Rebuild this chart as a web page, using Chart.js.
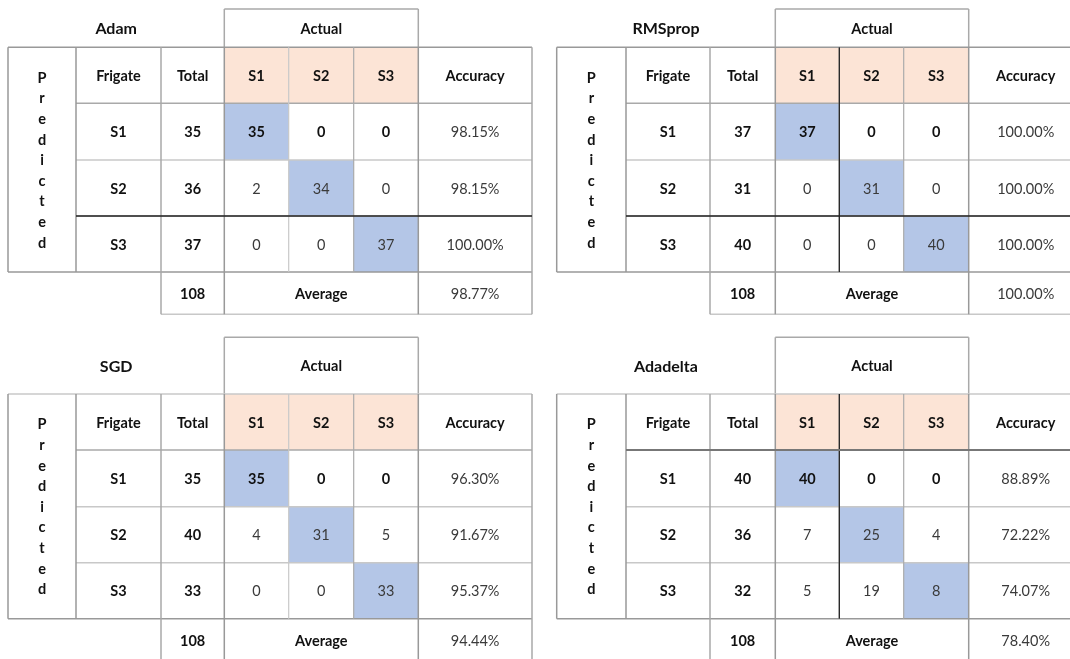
<!DOCTYPE html>
<html>
<head>
<meta charset="utf-8">
<script src="https://cdn.jsdelivr.net/npm/chart.js@4"></script>
<style>
  html, body { margin: 0; padding: 0; background: #fff; }
  #wrap { position: relative; width: 1070px; height: 659px; }
</style>
</head>
<body>
<div id="wrap"><canvas id="matrixChart"></canvas></div>
<script>
// data
const optimizers = ["Adam", "RMSprop", "SGD", "Adadelta"];
const classes = ["S1", "S2", "S3"];
const grandTotal = 108;

const adamMatrix = [[35, 0, 0], [2, 34, 0], [0, 0, 37]];
const rmspropMatrix = [[37, 0, 0], [0, 31, 0], [0, 0, 40]];
const sgdMatrix = [[35, 0, 0], [4, 31, 5], [0, 0, 33]];
const adadeltaMatrix = [[40, 0, 0], [7, 25, 4], [5, 19, 8]];

const adamTotals = [35, 36, 37];
const rmspropTotals = [37, 31, 40];
const sgdTotals = [35, 40, 33];
const adadeltaTotals = [40, 36, 32];

const adamAccuracy = [98.15, 98.15, 100.0];
const rmspropAccuracy = [100.0, 100.0, 100.0];
const sgdAccuracy = [96.30, 91.67, 95.37];
const adadeltaAccuracy = [88.89, 72.22, 74.07];

const averageAccuracy = [98.77, 100.0, 94.44, 78.40];

const matrices = [adamMatrix, rmspropMatrix, sgdMatrix, adadeltaMatrix];
const totals = [adamTotals, rmspropTotals, sgdTotals, adadeltaTotals];
const accuracies = [adamAccuracy, rmspropAccuracy, sgdAccuracy, adadeltaAccuracy];

// layout (table units, origin = top-left of the main table)
const leftEdges = [0, 68, 153, 216.3, 280.7, 345.7, 410.3, 524];
const rightEdges = [0, 69.3, 153.3, 218.6, 282.6, 347, 412, 526];
const rowEdges = [0, 56, 112.7, 168.7, 224.7, 267];
const panels = [
  { x: 8, y: 47.3, actualH: 38.3, cols: leftEdges, dark: [["h", 3, 1, 7]] },
  { x: 556.7, y: 47.3, actualH: 38.3, cols: rightEdges, dark: [["h", 3, 1, 7], ["v", 4, 0, 4]] },
  { x: 8, y: 394, actualH: 56.7, cols: leftEdges, dark: [] },
  { x: 556.7, y: 394, actualH: 56.7, cols: rightEdges, dark: [["v", 4, 0, 4], ["h", 1, 1, 7, "#777"]] }
];

const FONT = "Lato, 'Open Sans', sans-serif";
const fmtPct = v => v.toFixed(2) + "%";

const datasets = panels.map((p, k) => {
  const pts = [];
  matrices[k].forEach((row, r) => row.forEach((v, c) => {
    pts.push({
      x: p.x + (p.cols[3 + c] + p.cols[4 + c]) / 2,
      y: p.y + (rowEdges[1 + r] + rowEdges[2 + r]) / 2,
      v: v, r: r, c: c
    });
  }));
  return { label: optimizers[k], data: pts, pointRadius: 0, showLine: false };
});

const tablePlugin = {
  id: "tables",
  beforeDatasetsDraw(chart) {
    const ctx = chart.ctx;
    const xs = chart.scales.x, ys = chart.scales.y;
    panels.forEach((p, k) => {
      const colEdges = p.cols;
      const X = u => xs.getPixelForValue(p.x + u);
      const Y = u => ys.getPixelForValue(p.y + u);
      const fillCell = (c, r, color) => {
        ctx.fillStyle = color;
        ctx.fillRect(X(colEdges[c]), Y(rowEdges[r]), X(colEdges[c + 1]) - X(colEdges[c]), Y(rowEdges[r + 1]) - Y(rowEdges[r]));
      };
      for (let c = 0; c < 3; c++) {
        fillCell(3 + c, 0, "#fce4d6");
        fillCell(3 + c, 1 + c, "#b4c6e7");
      }

      const line = (x1, y1, x2, y2, color, w) => {
        ctx.strokeStyle = color;
        ctx.lineWidth = w;
        ctx.beginPath();
        ctx.moveTo(x1, y1);
        ctx.lineTo(x2, y2);
        ctx.stroke();
      };
      const h = (r, c1, c2, color, w) => line(X(colEdges[c1]), Y(rowEdges[r]), X(colEdges[c2]), Y(rowEdges[r]), color, w);
      const v = (c, r1, r2, color, w) => line(X(colEdges[c]), Y(rowEdges[r1]), X(colEdges[c]), Y(rowEdges[r2]), color, w);

      const grid = "#a9a9a9", light = "#c8c8c8";
      // "Actual" box
      line(X(colEdges[3]), Y(-p.actualH), X(colEdges[6]), Y(-p.actualH), grid, 1.5);
      line(X(colEdges[3]), Y(-p.actualH), X(colEdges[3]), Y(0), grid, 1.5);
      line(X(colEdges[6]), Y(-p.actualH), X(colEdges[6]), Y(0), grid, 1.5);
      // horizontals
      h(0, 0, 7, k < 2 ? "#999" : light, 1.6);
      h(1, 1, 7, grid, 1.5);
      h(2, 1, 7, light, 1.5);
      h(3, 1, 7, light, 1.5);
      h(4, 0, 7, "#999", 1.6);
      h(5, 2, 7, light, 1.5);
      // verticals
      v(0, 0, 4, "#999", 1.5);
      v(1, 0, 4, "#999", 1.5);
      v(2, 0, 5, grid, 1.5);
      v(3, 0, 5, "#999", 1.5);
      v(4, 0, 4, light, 1.2);
      v(5, 0, 4, "#aaa", 1.2);
      v(6, 0, 5, "#999", 1.5);
      v(7, 0, 5, grid, 1.5);
      // darker strokes
      p.dark.forEach(d => {
        const col = d[4] || "#222";
        if (d[0] === "h") h(d[1], d[2], d[3], col, d[4] ? 2 : 1.3);
        else v(d[1], d[2], d[3], col, 1.3);
      });
    });
  },
  afterDatasetsDraw(chart) {
    const ctx = chart.ctx;
    const xs = chart.scales.x, ys = chart.scales.y;
    ctx.textAlign = "center";
    ctx.textBaseline = "middle";
    const boldC = "#111", regC = "#3a3a3a";
    const text = (s, x, y, bold, size, color) => {
      ctx.font = (bold ? "bold " : "") + size + "px " + FONT;
      ctx.fillStyle = color || (bold ? boldC : regC);
      ctx.fillText(s, x, y + 1);
    };
    panels.forEach((p, k) => {
      const colEdges = p.cols;
      const X = u => xs.getPixelForValue(p.x + u);
      const Y = u => ys.getPixelForValue(p.y + u);
      const cx = c => (X(colEdges[c]) + X(colEdges[c + 1])) / 2;
      const cy = r => (Y(rowEdges[r]) + Y(rowEdges[r + 1])) / 2;
      const topY = Y(-p.actualH / 2);

      text(optimizers[k], (X(colEdges[0]) + X(colEdges[3])) / 2, topY, true, 16);
      text("Actual", (X(colEdges[3]) + X(colEdges[6])) / 2, topY, true, 14.5);

      text("Frigate", cx(1), cy(0), true, 14.5);
      text("Total", cx(2), cy(0), true, 14.5);
      classes.forEach((s, c) => text(s, cx(3 + c), cy(0), true, 14.5));
      text("Accuracy", cx(6), cy(0), true, 14.5);

      classes.forEach((s, r) => {
        text(s, cx(1), cy(1 + r), true, 14.5);
        text(String(totals[k][r]), cx(2), cy(1 + r), true, 14.5);
        text(fmtPct(accuracies[k][r]), cx(6), cy(1 + r), false, 14.5);
      });

      // matrix values, placed at the dataset's points
      const meta = chart.getDatasetMeta(k);
      meta.data.forEach((el, i) => {
        const d = chart.data.datasets[k].data[i];
        text(String(d.v), el.x, el.y, d.r === 0, 14.5);
      });

      text(String(grandTotal), cx(2), cy(4), true, 14.5);
      text("Average", (X(colEdges[3]) + X(colEdges[6])) / 2, cy(4), true, 14.5);
      text(fmtPct(averageAccuracy[k]), cx(6), cy(4), false, 14.5);

      "Predicted".split("").forEach((ch, i) => {
        text(ch, cx(0), Y(29.8 + i * 20.6), true, 14.5);
      });
    });
  }
};

new Chart(document.getElementById("matrixChart"), {
  type: "scatter",
  data: { datasets: datasets },
  options: {
    responsive: true,
    maintainAspectRatio: false,
    animation: false,
    layout: { padding: 0 },
    plugins: { legend: { display: false }, tooltip: { enabled: false } },
    scales: {
      x: { type: "linear", min: 0, max: 1070, display: false },
      y: { type: "linear", min: 0, max: 659, reverse: true, display: false }
    }
  },
  plugins: [tablePlugin]
});
</script>
</body>
</html>
